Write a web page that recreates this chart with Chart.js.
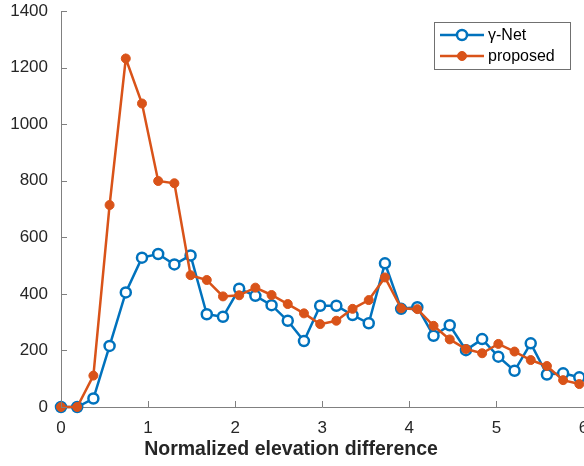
<!DOCTYPE html>
<html>
<head>
<meta charset="utf-8">
<script src="https://cdn.jsdelivr.net/npm/chart.js@4/dist/chart.umd.min.js"></script>
<style>
  html, body { margin: 0; padding: 0; background: #fff; overflow: hidden; }
  #wrap { width: 584px; height: 466px; overflow: hidden; }
</style>
</head>
<body>
<div id="wrap"><canvas id="chart" width="591" height="466"></canvas></div>
<script>
// x positions of the bins
const xValues = [0, 0.186, 0.372, 0.558, 0.744, 0.93, 1.116, 1.302, 1.488, 1.674, 1.86,
  2.046, 2.232, 2.418, 2.604, 2.79, 2.976, 3.162, 3.348, 3.534, 3.72, 3.906, 4.092,
  4.278, 4.464, 4.65, 4.836, 5.022, 5.208, 5.394, 5.58, 5.766, 5.952];

const gammaNet = [0, 0, 30, 216, 405, 528, 541, 504, 536, 328, 319, 418, 393, 360, 305,
  233, 358, 358, 325, 296, 508, 347, 353, 252, 289, 201, 240, 178, 128, 225, 115, 119, 105];

const proposed = [0, 0, 111, 714, 1232, 1073, 799, 791, 466, 449, 391, 395, 422, 396, 364,
  331, 293, 305, 347, 378, 458, 349, 346, 287, 239, 205, 190, 223, 196, 166, 145, 95, 81];

const xTicks = [0, 1, 2, 3, 4, 5, 6];
const yTicks = [0, 200, 400, 600, 800, 1000, 1200, 1400];

const seriesNames = ['\u03b3-Net', 'proposed'];
const xTitle = 'Normalized elevation difference';
const blue = '#0072BD';
const orange = '#D95319';
const axisColor = '#808080';
const textColor = '#262626';
const fontFamily = '"Liberation Sans", Arial, Helvetica, sans-serif';

function toPoints(ys) {
  return ys.map((y, i) => ({ x: xValues[i], y: y }));
}

// MATLAB style inward ticks + the x label (centred on the figure, not the axes)
const inwardTicks = {
  id: 'inwardTicks',
  afterDraw(chart) {
    const ctx = chart.ctx;
    const xs = chart.scales.x;
    const ys = chart.scales.y;
    const area = chart.chartArea;
    ctx.save();
    ctx.strokeStyle = axisColor;
    ctx.lineWidth = 1;
    ctx.beginPath();
    xTicks.forEach(t => {
      const px = Math.round(xs.getPixelForValue(t)) + 0.5;
      ctx.moveTo(px, area.bottom);
      ctx.lineTo(px, area.bottom - 6);
    });
    yTicks.forEach(t => {
      const py = Math.round(ys.getPixelForValue(t)) + 0.5;
      ctx.moveTo(area.left, py);
      ctx.lineTo(area.left + 6, py);
    });
    ctx.stroke();

    ctx.fillStyle = textColor;
    ctx.font = 'bold 19.5px ' + fontFamily;
    ctx.textAlign = 'center';
    ctx.textBaseline = 'middle';
    ctx.fillText(xTitle, 291, 450);
    ctx.restore();
  }
};

// legend box in the top right corner
const boxLegend = {
  id: 'boxLegend',
  afterDraw(chart) {
    const ctx = chart.ctx;
    ctx.save();
    ctx.fillStyle = '#fff';
    ctx.fillRect(434, 22, 136, 47);
    ctx.strokeStyle = '#707070';
    ctx.lineWidth = 1;
    ctx.strokeRect(434.5, 22.5, 136, 47);
    const rows = [35, 56];
    chart.data.datasets.forEach((ds, i) => {
      const y = rows[i];
      ctx.strokeStyle = ds.borderColor;
      ctx.lineWidth = 2.5;
      ctx.beginPath();
      ctx.moveTo(440, y);
      ctx.lineTo(484, y);
      ctx.stroke();
      ctx.beginPath();
      ctx.arc(462, y, ds.pointRadius, 0, Math.PI * 2);
      ctx.fillStyle = ds.pointBackgroundColor;
      ctx.fill();
      ctx.lineWidth = ds.pointBorderWidth;
      ctx.strokeStyle = ds.pointBorderColor;
      ctx.stroke();
      ctx.fillStyle = '#000';
      ctx.font = '16px ' + fontFamily;
      ctx.textBaseline = 'middle';
      ctx.fillText(seriesNames[i], 488, y + 1);
    });
    ctx.restore();
  }
};

new Chart(document.getElementById('chart'), {
  type: 'line',
  data: {
    datasets: [
      {
        label: seriesNames[0],
        data: toPoints(gammaNet),
        borderColor: blue,
        borderWidth: 2.5,
        pointRadius: 5,
        pointBorderWidth: 2.5,
        pointBorderColor: blue,
        pointBackgroundColor: '#fff',
        tension: 0,
        clip: false,
        order: 1
      },
      {
        label: seriesNames[1],
        data: toPoints(proposed),
        borderColor: orange,
        borderWidth: 2.5,
        pointRadius: 4.5,
        pointBorderWidth: 1,
        pointBorderColor: orange,
        pointBackgroundColor: orange,
        tension: 0,
        clip: false,
        order: 0
      }
    ]
  },
  options: {
    responsive: false,
    animation: false,
    devicePixelRatio: 1,
    layout: { padding: { left: 0, right: 2, top: 11, bottom: 0 } },
    plugins: {
      legend: { display: false },
      tooltip: { enabled: false }
    },
    scales: {
      x: {
        type: 'linear',
        min: 0,
        max: 6,
        afterBuildTicks(scale) { scale.ticks = xTicks.map(v => ({ value: v })); },
        ticks: {
          color: textColor,
          padding: 11,
          maxRotation: 0,
          callback: v => String(v),
          font: { family: fontFamily, size: 17 }
        },
        grid: { display: true, drawOnChartArea: false, drawTicks: false },
        border: { display: true, color: axisColor, width: 1 },
        afterFit(scale) {
          scale.height = 59;
          scale.paddingLeft = 0;
          scale.paddingRight = 0;
        }
      },
      y: {
        min: 0,
        max: 1400,
        afterBuildTicks(scale) { scale.ticks = yTicks.map(v => ({ value: v })); },
        ticks: {
          color: textColor,
          padding: 13,
          callback: v => String(v),
          font: { family: fontFamily, size: 17 }
        },
        grid: { display: true, drawOnChartArea: false, drawTicks: false },
        border: { display: true, color: axisColor, width: 1 },
        afterFit(scale) {
          scale.width = 61;
          scale.paddingTop = 0;
          scale.paddingBottom = 0;
        }
      }
    }
  },
  plugins: [inwardTicks, boxLegend]
});
</script>
</body>
</html>
